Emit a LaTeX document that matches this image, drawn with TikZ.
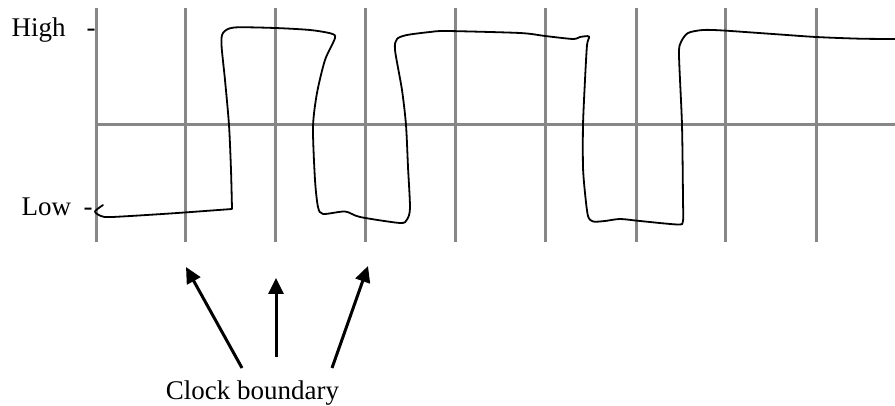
\documentclass[tikz,border=0pt]{standalone}
\usepackage{fontspec}
\setmainfont{Liberation Serif}
\usetikzlibrary{arrows.meta}
\begin{document}
\begin{tikzpicture}[x=1pt,y=-1pt,
  gridline/.style={draw=black!47,line width=3pt},
  wave/.style={draw=black,line width=1.8pt,line join=round,line cap=round},
  pointer/.style={draw=black,line width=3pt,-{Triangle[length=16pt,width=15pt]}},
  lbl/.style={inner sep=0pt,font=\fontsize{27}{32}\selectfont}]
\useasboundingbox (0,0) rectangle (895,406);
% grid
\foreach \x/\n in {96/g0,185/g1,275/g2,365/g3,455/g4,545/g5,636/g6,725/g7,816/g8}{
  \coordinate (\n t) at (\x,8);
  \coordinate (\n b) at (\x,242);
  \draw[gridline] (\n t) -- (\n b);
}
\coordinate (hl) at (96,125);
\coordinate (hr) at (895,125);
\draw[gridline] (hl) -- (hr);
% labels
\node[lbl,anchor=base west] (high) at (11.5,37) {High};
\node[lbl,anchor=base west] (highdash) at (86.5,37) {-};
\node[lbl,anchor=base west] (low) at (21.5,216) {Low};
\node[lbl,anchor=base west] (lowdash) at (83.5,216) {-};
\node[lbl,anchor=base] (clock) at (252.5,399) {Clock boundary};
% waveform
\draw[wave] plot[smooth,tension=0.45] coordinates {
 (103,205) (95,211.5) (101,216) (112,217) (170,213.5) (232,209)}
 -- plot[smooth,tension=0.45] coordinates {
 (232,209) (231,170) (229,125) (225,80) (221.5,45) (223,33) (234,27.5) (275,28) (310,30) (331,33.5) (335,38)
 (325,60) (317,93) (313,127) (315,180) (318,207) (323,214) (345,211.5) (360,217) (400,223) (407,219.5) (410,208)
 (408,167) (406,125) (402,90) (395,50) (397,39) (407,35) (430,32) (447,31)
 (520,33) (545,36) (573,39) (580,37) (589,36.5) (587,45)
 (585,80) (583,125) (583,167) (585,193) (588,216) (593,221.5) (605,221) (620,219) (640,221) (678,224.5) (683,221)
 (683,200) (682,125) (679,55) (681,42) (688,33) (703,30) (723,30.5) (773,34) (816,37) (860,38.7) (895,39)
};
% arrows
\coordinate (a1s) at (242,368);
\coordinate (a2s) at (276,357);
\coordinate (a3s) at (332,368);
\coordinate (a1e) at (186,267);
\coordinate (a2e) at (276,278);
\coordinate (a3e) at (368,266);
\draw[pointer] (a1s) -- (a1e);
\draw[pointer] (a2s) -- (a2e);
\draw[pointer] (a3s) -- (a3e);
\end{tikzpicture}
\end{document}
